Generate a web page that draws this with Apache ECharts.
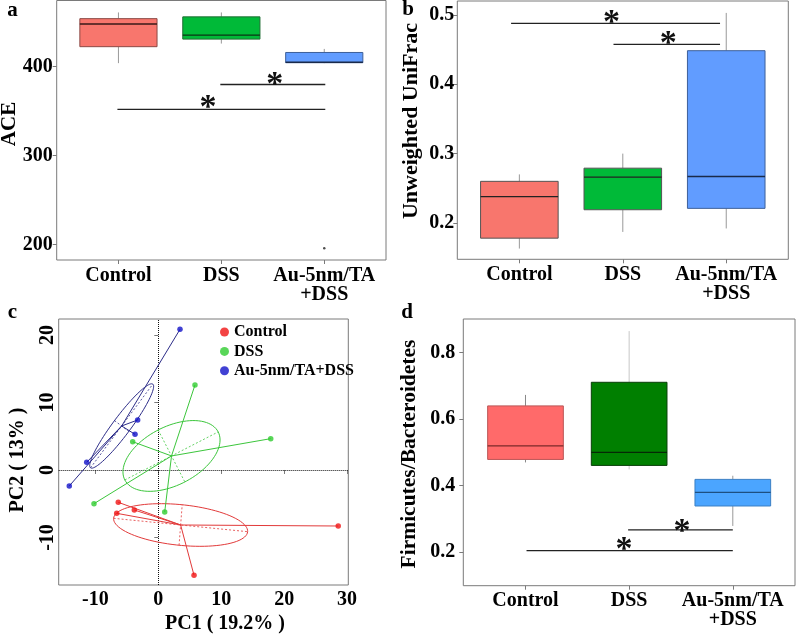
<!DOCTYPE html>
<html><head><meta charset="utf-8">
<script src="https://cdn.jsdelivr.net/npm/echarts@6/dist/echarts.min.js"></script>
<style>html,body{margin:0;padding:0;background:#fff}#c{width:797px;height:637px}</style>
</head><body><div id="c"></div>
<script>
// ---------- data ----------
const categories = ['Control', 'DSS', 'Au-5nm/TA\n+DSS'];
// box stats per group: [lower whisker, Q1, median, Q3, upper whisker]
const aceBox = [[404, 422.5, 448, 454, 461], [426, 431, 435.6, 456, 461], [404, 404.5, 405, 416, 420]];
const aceOutliers = [[3, 196]];
const aceTicks = [200, 300, 400];
// significance bars: [x1, x2, y, starX, starY]
const aceSig = [[0.99, 3.01, 352, 1.87, 362], [1.99, 3.01, 380, 2.52, 388]];

const unifracBox = [[0.163, 0.178, 0.238, 0.26, 0.27], [0.187, 0.219, 0.266, 0.279, 0.30], [0.192, 0.221, 0.267, 0.4485, 0.503]];
const unifracTicks = [0.2, 0.3, 0.4, 0.5];
const unifracSig = [[0.92, 2.94, 0.488, 1.89, 0.5], [1.91, 2.94, 0.4577, 2.44, 0.4687]];

const fbBox = [[0.47, 0.479, 0.52, 0.64, 0.673], [0.449, 0.461, 0.50, 0.711, 0.865], [0.279, 0.339, 0.38, 0.419, 0.43]];
const fbTicks = [0.2, 0.4, 0.6, 0.8];
const fbSig = [[1.01, 3.0, 0.205, 1.95, 0.229], [1.99, 3.0, 0.267, 2.51, 0.285]];

const pcaGroups = ['Control', 'DSS', 'Au-5nm/TA+DSS'];
const pcaControl = [[-6.36, -4.79], [-6.61, -6.42], [-3.81, -5.93], [28.6, -8.30], [5.68, -15.6]];
const pcaDSS = [[5.83, 12.59], [17.87, 4.64], [-4.07, 4.19], [-10.22, -4.99], [1.02, -6.22]];
const pcaAu = [[3.45, 20.84], [-3.28, 7.41], [-3.70, 5.28], [-11.38, 1.14], [-14.15, -2.37]];
// ellipse per group: [cx, cy, ux, uy, vx, vy] (centre and two conjugate semi-axes)
const pcaEllipses = [[3.55, -8.15, 10.65, -0.99, 0.25, 3.0], [2.1, 2.08, 7.42, 3.56, 2.12, -3.85], [-5.82, 6.52, 4.95, 6.2, 1.14, -0.8]];
const pcaXTicks = [-10, 0, 10, 20, 30];
const pcaYTicks = [-10, 0, 10, 20];

// ---------- styles ----------
const FONT = '"Liberation Serif", "Times New Roman", serif';
const frameColor = '#7a7a7a';
const lblStyle = { fontFamily: FONT, fontWeight: 'bold', fontSize: 20, color: '#000' };

function boxRender(fills, strokes, width, whisker, median) {
  return function (params, api) {
    const i = params.dataIndex;
    const x = api.value(0);
    const lo = api.value(1), q1 = api.value(2), md = api.value(3), q3 = api.value(4), hi = api.value(5);
    const tl = api.coord([x - width / 2, q3]);
    const br = api.coord([x + width / 2, q1]);
    const m = api.coord([x, md]);
    const top = api.coord([x, hi]), bot = api.coord([x, lo]);
    return {
      type: 'group', children: [
        { type: 'line', shape: { x1: top[0], y1: top[1], x2: top[0], y2: tl[1] }, style: { stroke: whisker[i], lineWidth: 1 } },
        { type: 'line', shape: { x1: bot[0], y1: br[1], x2: bot[0], y2: bot[1] }, style: { stroke: whisker[i], lineWidth: 1 } },
        { type: 'rect', shape: { x: tl[0], y: tl[1], width: br[0] - tl[0], height: br[1] - tl[1] }, style: { fill: fills[i], stroke: strokes[i], lineWidth: 1 } },
        { type: 'line', shape: { x1: tl[0], y1: m[1], x2: br[0], y2: m[1] }, style: { stroke: median[i], lineWidth: 1.3 } }
      ]
    };
  };
}
function sigRender(params, api) {
  const a = api.coord([api.value(0), api.value(2)]);
  const b = api.coord([api.value(1), api.value(2)]);
  const s = api.coord([api.value(3), api.value(4)]);
  return {
    type: 'group', children: [
      { type: 'line', shape: { x1: a[0], y1: a[1], x2: b[0], y2: b[1] }, style: { stroke: '#222', lineWidth: 1.3 } },
      { type: 'text', x: s[0], y: s[1] + 8, style: { text: '*', font: 'bold 34px ' + FONT, textAlign: 'center', textVerticalAlign: 'middle', align: 'center', verticalAlign: 'middle', fill: '#111' } }
    ]
  };
}
function boxX(gi) {
  return {
    type: 'value', gridIndex: gi, min: 0.4, max: 3.6,
    splitLine: { show: false }, axisLine: { show: false },
    axisTick: { show: true, customValues: [1, 2, 3], length: 4, lineStyle: { color: frameColor } },
    axisLabel: Object.assign({ customValues: [1, 2, 3], margin: 6, lineHeight: 19, formatter: v => categories[Math.round(v) - 1] }, lblStyle)
  };
}
function valY(gi, min, max, ticks, margin, fmt) {
  return {
    type: 'value', gridIndex: gi, min: min, max: max,
    splitLine: { show: false }, axisLine: { show: false },
    axisTick: { show: true, customValues: ticks, length: 4, lineStyle: { color: frameColor } },
    axisLabel: Object.assign({ customValues: ticks, margin: margin, formatter: fmt }, lblStyle)
  };
}
const gridBase = { show: true, borderColor: frameColor, borderWidth: 1, backgroundColor: 'transparent', containLabel: false };

const chart = echarts.init(document.getElementById('c'), null, { renderer: 'canvas' });

const pcaCols = { point: ['#f01414', '#2fcc2f', '#1212c8'], line: ['#e23a3a', '#3cc63c', '#2c2c88'] };
const pcaSets = [pcaControl, pcaDSS, pcaAu];

const series = [];
// panel a
series.push({ type: 'custom', xAxisIndex: 0, yAxisIndex: 0, data: aceBox.map((b, i) => [i + 1].concat(b)),
  renderItem: boxRender(['#F8766D', '#00BA38', '#619CFF'], ['#8c4a45', '#1f6e33', '#3d5f99'], 0.75, ['#999', '#999', '#999'], ['#3a1a18', '#0b3315', '#1a2a4a']) });
series.push({ type: 'scatter', xAxisIndex: 0, yAxisIndex: 0, data: aceOutliers, symbolSize: 2.5, itemStyle: { color: '#222' } });
series.push({ type: 'custom', xAxisIndex: 0, yAxisIndex: 0, data: aceSig, renderItem: sigRender });
// panel b
series.push({ type: 'custom', xAxisIndex: 1, yAxisIndex: 1, data: unifracBox.map((b, i) => [i + 1].concat(b)),
  renderItem: boxRender(['#F8766D', '#00BA38', '#619CFF'], ['#555', '#555', '#3d5f99'], 0.75, ['#999', '#999', '#999'], ['#222', '#222', '#1a2a4a']) });
series.push({ type: 'custom', xAxisIndex: 1, yAxisIndex: 1, data: unifracSig, renderItem: sigRender });
// panel d
series.push({ type: 'custom', xAxisIndex: 3, yAxisIndex: 3, data: fbBox.map((b, i) => [i + 1].concat(b)),
  renderItem: boxRender(['#FF6A6A', '#007F00', '#4BA5FF'], ['#b55', '#0a3f0a', '#3b7fc4'], 0.73, ['#888', '#c8c8c8', '#999'], ['#7a2a2a', '#052805', '#1d4f80']) });
series.push({ type: 'custom', xAxisIndex: 3, yAxisIndex: 3, data: fbSig, renderItem: sigRender });
// panel c: ellipses
series.push({ type: 'custom', xAxisIndex: 2, yAxisIndex: 2, data: pcaEllipses, z: 2,
  renderItem: function (params, api) {
    const cx = api.value(0), cy = api.value(1), ux = api.value(2), uy = api.value(3), vx = api.value(4), vy = api.value(5);
    const pts = [];
    for (let k = 0; k <= 90; k++) {
      const t = 2 * Math.PI * k / 90;
      pts.push(api.coord([cx + Math.cos(t) * ux + Math.sin(t) * vx, cy + Math.cos(t) * uy + Math.sin(t) * vy]));
    }
    const col = pcaCols.line[params.dataIndex];
    const a1 = api.coord([cx - ux, cy - uy]), a2 = api.coord([cx + ux, cy + uy]);
    const b1 = api.coord([cx - vx, cy - vy]), b2 = api.coord([cx + vx, cy + vy]);
    return { type: 'group', children: [
      { type: 'polyline', shape: { points: pts }, style: { stroke: col, lineWidth: 1, fill: 'none' } },
      { type: 'line', shape: { x1: a1[0], y1: a1[1], x2: a2[0], y2: a2[1] }, style: { stroke: col, lineWidth: 0.8, lineDash: [2, 2] } },
      { type: 'line', shape: { x1: b1[0], y1: b1[1], x2: b2[0], y2: b2[1] }, style: { stroke: col, lineWidth: 0.8, lineDash: [2, 2] } }
    ] };
  } });
// panel c: star segments
pcaSets.forEach(function (set, g) {
  series.push({ type: 'custom', xAxisIndex: 2, yAxisIndex: 2, z: 3,
    data: set.map(p => [pcaEllipses[g][0], pcaEllipses[g][1], p[0], p[1]]),
    renderItem: function (params, api) {
      const a = api.coord([api.value(0), api.value(1)]), b = api.coord([api.value(2), api.value(3)]);
      return { type: 'line', shape: { x1: a[0], y1: a[1], x2: b[0], y2: b[1] }, style: { stroke: pcaCols.line[g], lineWidth: 1 } };
    } });
});
// panel c: points
pcaSets.forEach(function (set, g) {
  const s = { type: 'scatter', name: pcaGroups[g], xAxisIndex: 2, yAxisIndex: 2, z: 4, data: set, symbolSize: 5.5,
    itemStyle: { color: pcaCols.point[g] } };
  if (g === 0) {
    s.markLine = { silent: true, symbol: ['none', 'none'], label: { show: false }, z: 1,
      lineStyle: { type: 'dotted', color: '#111', width: 1 }, data: [{ xAxis: 0 }, { yAxis: 0 }] };
  }
  series.push(s);
});

function gtext(text, x, y, size, rot) {
  return { type: 'text', x: x, y: y, rotation: rot || 0,
    style: { text: text, font: 'bold ' + size + 'px ' + FONT, fill: '#000', textAlign: 'center', textVerticalAlign: 'middle', align: 'center', verticalAlign: 'middle' } };
}

chart.setOption({
  animation: false,
  backgroundColor: '#fff',
  grid: [
    Object.assign({ left: 56.7, top: 0.5, width: 329.3, height: 259.5 }, gridBase),
    Object.assign({ left: 457.3, top: 1, width: 331, height: 258.3 }, gridBase),
    Object.assign({ left: 58.7, top: 319, width: 289.6, height: 266 }, gridBase),
    Object.assign({ left: 463.3, top: 319, width: 331.7, height: 266.7 }, gridBase)
  ],
  xAxis: [
    boxX(0), boxX(1),
    { type: 'value', gridIndex: 2, min: -15.83, max: 30.2, splitLine: { show: false }, axisLine: { show: false },
      axisTick: { show: true, customValues: pcaXTicks, length: 4, lineStyle: { color: frameColor } },
      axisLabel: Object.assign({ customValues: pcaXTicks, margin: 5 }, lblStyle) },
    boxX(3)
  ],
  yAxis: [
    valY(0, 182.8, 474.4, aceTicks, 4, v => String(v)),
    valY(1, 0.1475, 0.5202, unifracTicks, 3, v => v.toFixed(1)),
    { type: 'value', gridIndex: 2, min: -17.04, max: 22.37, splitLine: { show: false }, axisLine: { show: false },
      axisTick: { show: true, customValues: pcaYTicks, length: 4, lineStyle: { color: frameColor } },
      axisLabel: Object.assign({ customValues: pcaYTicks, margin: 1, rotate: 90 }, lblStyle) },
    valY(3, 0.0993, 0.9013, fbTicks, 8, v => v.toFixed(1))
  ],
  legend: {
    data: pcaGroups, orient: 'vertical', left: 215, top: 319, icon: 'circle', itemWidth: 9, itemHeight: 9, itemGap: 3.4,
    textStyle: { fontFamily: FONT, fontWeight: 'bold', fontSize: 16, color: '#000', lineHeight: 16 }, selectedMode: false
  },
  graphic: [
    gtext('a', 12.5, 11, 21), gtext('b', 408, 10, 21), gtext('c', 12.5, 313, 21), gtext('d', 407, 313, 21),
    gtext('ACE', 10, 124, 21, Math.PI / 2),
    gtext('Unweighted UniFrac', 411, 121, 22, Math.PI / 2),
    gtext('Firmicutes/Bacteroidetes', 409, 454, 21.5, Math.PI / 2),
    gtext('PC2 ( 13% )', 18, 460, 20, Math.PI / 2),
    gtext('PC1 ( 19.2% )', 225, 624, 20)
  ],
  series: series
});
</script></body></html>
